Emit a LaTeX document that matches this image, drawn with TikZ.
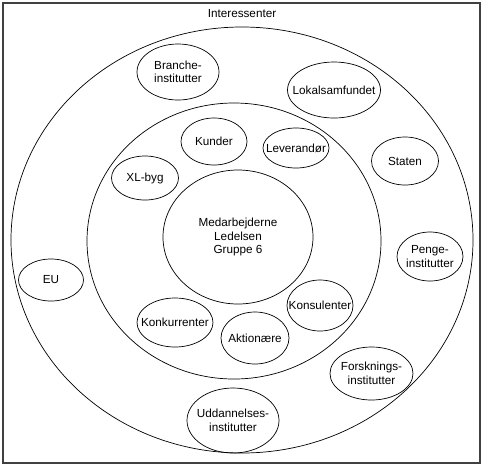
\documentclass[tikz,border=0pt]{standalone}
\usepackage{fontspec}
\setmainfont{Liberation Sans}
\usetikzlibrary{shapes.geometric}

\begin{document}
\begin{tikzpicture}[
      x=0.03cm, y=-0.03cm,
      ring/.style={draw, ellipse, line width=0.6pt},
      txt/.style={align=center, font=\fontsize{10}{11.5}\selectfont, inner sep=0pt},
      part/.style={draw, ellipse, line width=0.6pt, inner sep=0pt, label={[txt]center:#1}}
    ]
    \useasboundingbox (0,0) rectangle (484,467);
    % Rahmen
    \draw[line width=1.2pt, black!75] (3,3) rectangle (480,463);
    \node[txt] (titel) at (242,14) {Interessenter};

    % Ringe
    \node[ring, minimum width=13.86cm, minimum height=12.78cm] (ydre)   at (242,240) {};
    \node[ring, minimum width=8.82cm,  minimum height=8.28cm]  (mellem) at (234,241) {};
    \node[part={Medarbejderne\\Ledelsen\\Gruppe 6}, minimum width=4.5cm, minimum height=4.02cm] (kerne) at (238,237) {};

    % Indre ring
    \node[part={Kunder},       minimum width=1.98cm, minimum height=1.41cm] (kunder)      at (214,141.5) {};
    \node[part={Leverandør},   minimum width=1.98cm, minimum height=1.2cm]  (leverandor)  at (296,148)   {};
    \node[part={XL-byg},       minimum width=2.01cm, minimum height=1.32cm] (xlbyg)       at (145,178)   {};
    \node[part={Konsulenter},  minimum width=1.98cm, minimum height=1.53cm] (konsulenter) at (320,305.5) {};
    \node[part={Konkurrenter}, minimum width=2.28cm, minimum height=1.47cm] (konkurrenter) at (175,322.5) {};
    \node[part={Aktionære},    minimum width=2.04cm, minimum height=1.56cm] (aktionaere)  at (255,338)   {};

    % Ydre ring
    \node[part={Branche-\\institutter},     minimum width=2.46cm, minimum height=1.68cm] (branche)    at (178,72)    {};
    \node[part={Lokalsamfundet},            minimum width=2.79cm, minimum height=1.68cm] (lokal)      at (334,90)    {};
    \node[part={Staten},                    minimum width=2.01cm, minimum height=1.44cm] (staten)     at (405,161)   {};
    \node[part={Penge-\\institutter},       minimum width=1.98cm, minimum height=1.47cm] (penge)      at (430,256.5) {};
    \node[part={EU},                        minimum width=1.95cm, minimum height=1.26cm] (eu)         at (51,280)    {};
    \node[part={Forsknings-\\institutter},  minimum width=2.49cm, minimum height=1.59cm] (forskning)  at (371.5,373.5) {};
    \node[part={Uddannelses-\\institutter}, minimum width=2.76cm, minimum height=1.95cm] (uddannelse) at (233,420.5) {};
  \end{tikzpicture}
\end{document}
